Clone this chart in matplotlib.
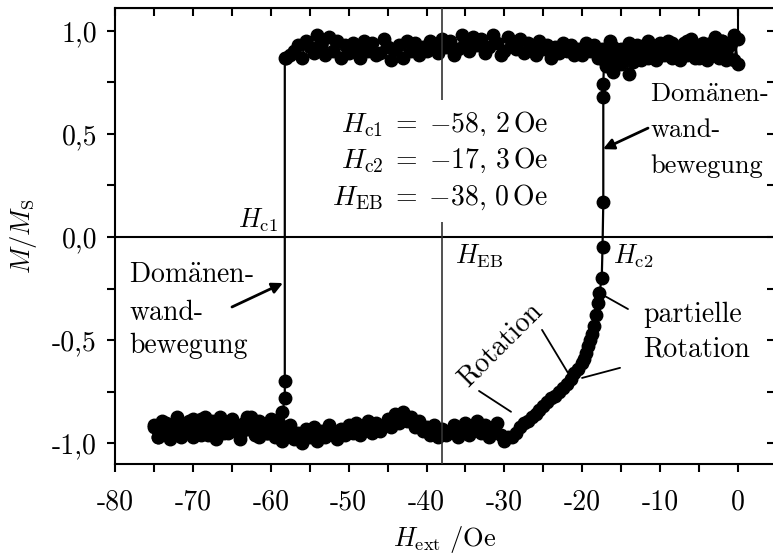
import numpy as np
import matplotlib
matplotlib.use("Agg")
import matplotlib.pyplot as plt
from matplotlib.ticker import MultipleLocator, FuncFormatter

plt.rcParams['font.family'] = 'serif'
plt.rcParams['font.serif'] = ['cmr10']
plt.rcParams['mathtext.fontset'] = 'cm'
plt.rcParams['axes.unicode_minus'] = False
plt.rcParams['axes.formatter.use_mathtext'] = True

# coercive fields (Oe)
H_c1 = -58.2
H_c2 = -17.3
H_EB = -38.0

# descending branch, upper plateau: 0 ... -58 Oe in 0.5 Oe steps
down_top_h = np.arange(0.0, -58.01, -0.5)
down_top_m = [0.96, 0.86, 0.93, 0.89, 0.95, 0.87, 0.92, 0.94, 0.88, 0.90, 0.93, 0.87, 0.91, 0.95, 0.89, 0.86, 0.92, 0.94, 0.88, 0.91, 0.93,
              0.87, 0.92, 0.95, 0.89, 0.87, 0.93, 0.90, 0.94, 0.88, 0.91, 0.86, 0.92, 0.95, 0.89, 0.91, 0.87, 0.93, 0.90, 0.94, 0.88,
              0.91, 0.88, 0.93, 0.90, 0.94, 0.89, 0.92, 0.87, 0.93, 0.91, 0.95, 0.88, 0.92, 0.94, 0.89, 0.96, 0.91, 0.93, 0.97, 0.90,
              0.88, 0.94, 0.98, 0.92, 0.89, 0.96, 0.93, 0.97, 0.90, 0.94, 0.98, 0.91, 0.88, 0.95, 0.92, 0.96, 0.89, 0.93, 0.95, 0.90,
              0.92, 0.88, 0.94, 0.90, 0.95, 0.87, 0.93, 0.91, 0.86, 0.92, 0.96, 0.89, 0.88, 0.94, 0.90, 0.95, 0.87, 0.92, 0.94, 0.89,
              0.93, 0.87, 0.95, 0.90, 0.97, 0.88, 0.93, 0.98, 0.89, 0.92, 0.95, 0.87, 0.93, 0.90, 0.88, 0.87]

# switching at H_c1
jump1_h = [-58.2, -58.2, -58.2]
jump1_m = [0.87, -0.70, -0.78]

# descending branch, lower plateau: -58.5 ... -75 Oe
down_bot_h = np.arange(-58.5, -75.01, -0.5)
down_bot_m = [-0.85, -0.90, -0.94, -0.88, -0.95, -0.91, -0.97, -0.89, -0.87, -0.93, -0.90, -0.96, -0.92, -0.88, -0.95, -0.90, -0.93,
              -0.98, -0.89, -0.94, -0.87, -0.96, -0.91, -0.88, -0.95, -0.92, -0.97, -0.89, -0.93, -0.96, -0.90, -0.94, -0.97, -0.91]

# ascending branch, lower plateau: -75 ... -29.5 Oe
up_bot_h = np.arange(-75.0, -29.49, 0.5)
up_bot_m = [-0.92, -0.97, -0.89, -0.94, -0.98, -0.91, -0.87, -0.95, -0.93, -0.89,
            -0.97, -0.92, -0.88, -0.94, -0.96, -0.90, -0.93, -0.87, -0.95, -0.91,
            -0.89, -0.94, -0.98, -0.91, -0.87, -0.93, -0.96, -0.89, -0.92, -0.95,
            -0.90, -0.97, -0.93, -0.99, -0.94, -0.91, -0.98, -0.95, -1.00, -0.93,
            -0.97, -0.92, -0.99, -0.94, -0.97, -0.91, -0.95, -0.98, -0.93, -0.96,
            -0.91, -0.95, -0.90, -0.96, -0.92, -0.89, -0.95, -0.90, -0.94, -0.91,
            -0.88, -0.92, -0.86, -0.90, -0.85, -0.89, -0.87, -0.92, -0.89, -0.94,
            -0.92, -0.96, -0.91, -0.97, -0.93, -0.96, -0.94, -0.91, -0.97, -0.93,
            -0.90, -0.96, -0.92, -0.89, -0.95, -0.91, -0.97, -0.94, -0.90, -0.96,
            -0.99, -0.97]

# ascending branch, rotation region
rot_h = [-29.0, -28.5, -28.0, -27.5, -27.0, -26.5, -26.0, -25.5, -25.0, -24.5, -24.0, -23.5, -23.0, -22.5,
         -22.0, -21.5, -21.0, -20.5, -20.0, -19.75, -19.5, -19.25, -19.0, -18.75, -18.5, -18.25, -18.0, -17.8]
rot_m = [-0.97, -0.95, -0.92, -0.90, -0.89, -0.87, -0.86, -0.84, -0.82, -0.80, -0.78, -0.77, -0.75, -0.73,
         -0.71, -0.69, -0.66, -0.64, -0.61, -0.59, -0.56, -0.53, -0.50, -0.47, -0.43, -0.38, -0.32, -0.27]

# switching at H_c2
jump2_h = [-17.5, -17.4, -17.3, -17.3, -17.3, -17.2]
jump2_m = [-0.20, -0.05, 0.17, 0.68, 0.74, 0.86]

# ascending branch, upper plateau: -17 ... 0 Oe
up_top_h = np.arange(-17.0, 0.01, 0.5)
up_top_m = [0.83, 0.88, 0.80, 0.86, 0.84, 0.89, 0.79, 0.85, 0.90, 0.86,
            0.93, 0.87, 0.91, 0.86, 0.94, 0.88, 0.95, 0.87, 0.92, 0.89,
            0.94, 0.88, 0.96, 0.90, 0.87, 0.94, 0.86, 0.93, 0.97, 0.89,
            0.95, 0.86, 0.93, 0.98, 0.84]

x_ticks = [-80, -70, -60, -50, -40, -30, -20, -10, 0]
y_ticks = [-1.0, -0.5, 0.0, 0.5, 1.0]

fig = plt.figure(figsize=(7.73, 5.54), dpi=100)
ax = fig.add_axes([0.1488, 0.1625, 0.8533, 0.823])

h_down = np.concatenate([down_top_h, jump1_h, down_bot_h])
m_down = np.concatenate([down_top_m, jump1_m, down_bot_m])
h_up = np.concatenate([up_bot_h, rot_h, jump2_h, up_top_h])
m_up = np.concatenate([up_bot_m, rot_m, jump2_m, up_top_m])

style = dict(color='k', marker='o', markersize=9, lw=1.6, zorder=2)
ax.plot(h_down, m_down, **style)
ax.plot(h_up, m_up, **style)

ax.axhline(0, color='k', lw=1.5, zorder=1)
ax.axvline(H_EB, color='#333333', lw=1.2, zorder=3)
ax.axvline(0, ymin=0.93, ymax=1.0, color='k', lw=1.5, zorder=1)

ax.set_xlim(-80, 4.7)
ax.set_ylim(-1.1, 1.11)

ax.set_xticks(x_ticks)
ax.set_yticks(y_ticks)
ax.xaxis.set_minor_locator(MultipleLocator(5))
ax.yaxis.set_minor_locator(MultipleLocator(0.25))
ax.xaxis.set_major_formatter(FuncFormatter(lambda v, p: '%d' % v))
ax.yaxis.set_major_formatter(FuncFormatter(lambda v, p: ('%.1f' % v).replace('.', ',')))
ax.tick_params(which='both', direction='out', length=6, width=1.5, labelsize=20)
ax.tick_params(axis='x', pad=12)
ax.tick_params(axis='y', pad=7)
for s in ax.spines.values():
    s.set_linewidth(1.5)

# inward ticks on top and right
top = ax.secondary_xaxis('top')
top.set_xticks(x_ticks)
top.xaxis.set_minor_locator(MultipleLocator(5))
top.tick_params(which='both', direction='in', length=6, width=1.5, labeltop=False)
right = ax.secondary_yaxis('right')
right.set_yticks(y_ticks)
right.yaxis.set_minor_locator(MultipleLocator(0.25))
right.tick_params(which='both', direction='in', length=6, width=1.5, labelright=False)

fs = 19
fs_note = 20
fig.text(0.5757, 0.027, r'$H_{\rm ext}\ /{\rm Oe}$', ha='center', va='center', fontsize=fs)
fig.text(0.030, 0.574, r'$M/M_{\rm S}$', ha='center', va='center', rotation=90, fontsize=fs)

ax.text(-59.1, 0.048, r'$H_{\rm c1}$', ha='right', va='baseline', fontsize=fs)
ax.text(-36.3, -0.126, r'$H_{\rm EB}$', ha='left', va='baseline', fontsize=fs)
ax.text(-16.0, -0.126, r'$H_{\rm c2}$', ha='left', va='baseline', fontsize=fs)

box = dict(fc='white', ec='none', pad=7)
values = [r'$H_{\rm c1} \;=\; {-}58,\,2\,{\rm Oe}$',
          r'$H_{\rm c2} \;=\; {-}17,\,3\,{\rm Oe}$',
          r'$H_{\rm EB} \;=\; {-}38,\,0\,{\rm Oe}$']
for s, y in zip(values, [0.508, 0.334, 0.155]):
    ax.text(-24.45, y, s, ha='right', va='baseline', fontsize=20, bbox=box, zorder=4)

wall = [r'Dom$\ddot{\rm a}$nen-', 'wand-', 'bewegung']
for line, y in zip(wall, [-0.223, -0.402, -0.562]):
    ax.text(-78.2, y, line, ha='left', va='baseline', fontsize=fs_note)
for line, y in zip(wall, [0.654, 0.484, 0.310]):
    ax.text(-11.3, y, line, ha='left', va='baseline', fontsize=19)
for line, y in zip(['partielle', 'Rotation'], [-0.412, -0.581]):
    ax.text(-12.2, y, line, ha='left', va='baseline', fontsize=fs_note)
ax.text(-30.56, -0.523, 'Rotation', rotation=45, ha='center', va='center', fontsize=fs_note)

arrow = dict(arrowstyle='-|>', color='k', lw=2, mutation_scale=16, shrinkA=0, shrinkB=0)
ax.annotate('', xy=(-58.43, -0.223), xytext=(-64.98, -0.339), arrowprops=arrow)
ax.annotate('', xy=(-17.34, 0.426), xytext=(-11.56, 0.528), arrowprops=arrow)

tick = dict(arrowstyle='-', color='k', lw=1.3, shrinkA=0, shrinkB=0)
for p0, p1 in [((-33.26, -0.746), (-29.15, -0.847)),
               ((-25.17, -0.450), (-21.83, -0.659)),
               ((-17.34, -0.281), (-14.13, -0.349)),
               ((-20.03, -0.683), (-15.15, -0.634))]:
    ax.annotate('', xy=p1, xytext=p0, arrowprops=tick)

fig.savefig('out.png', dpi=100)
